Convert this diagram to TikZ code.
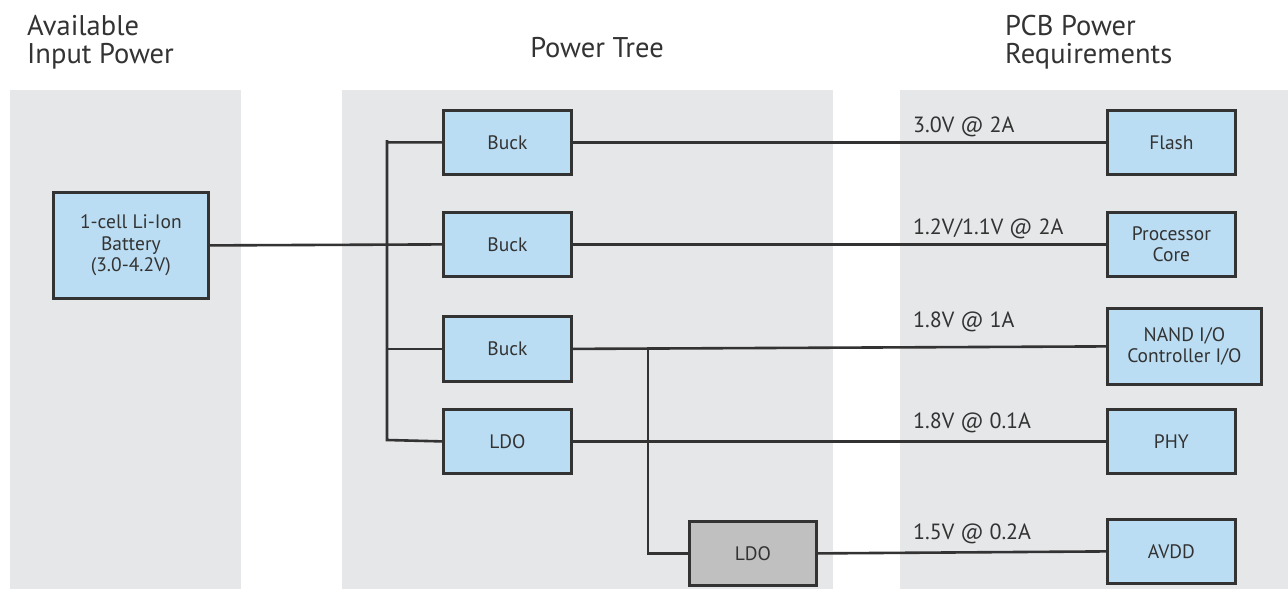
\documentclass[tikz,border=0pt]{standalone}
\usepackage{fontspec}
\setmainfont{PT Sans}
\definecolor{panelgray}{HTML}{E6E7E9}
\definecolor{boxblue}{HTML}{BBDDF3}
\definecolor{boxgray}{HTML}{C0C0C0}
\definecolor{ink}{HTML}{333333}
\tikzset{
  panel/.style={fill=panelgray, draw=none},
  blk/.style={draw=ink, line width=2.8pt, fill=boxblue, text=ink, align=center,
     font=\fontsize{19.5}{21.5}\selectfont, inner sep=0pt, anchor=north west},
  gblk/.style={blk, fill=boxgray},
  wire/.style={draw=ink, line width=2.6pt},
  lbl/.style={text=ink, font=\fontsize{22}{24}\selectfont, anchor=base west, inner sep=0pt},
  ttl/.style={text=ink, font=\fontsize{28.5}{28}\selectfont, align=left, inner sep=0pt}
}
\begin{document}
\begin{tikzpicture}[x=1pt,y=-1pt]
\useasboundingbox (0,0) rectangle (1288,589);
% panels
\fill[panel] (10,90) rectangle (241,589);
\fill[panel] (342,90) rectangle (833,589);
\fill[panel] (900,90) rectangle (1288,589);
% titles
\node[ttl, anchor=base west] (t1) at (27,63) {Available\\Input Power};
\node[ttl, anchor=base] (t2) at (597,57) {Power Tree};
\node[ttl, anchor=base west] (t3) at (1005,63) {PCB Power\\Requirements};
% boxes
\node[blk, minimum width=155pt, minimum height=106pt] (bat) at (52,191) {1-cell Li-Ion\\Battery\\(3.0-4.2V)};
\node[blk, minimum width=128pt, minimum height=64pt] (b1) at (442,109) {Buck};
\node[blk, minimum width=128pt, minimum height=64pt] (b2) at (442,211) {Buck};
\node[blk, minimum width=128pt, minimum height=65pt] (b3) at (442,315) {Buck};
\node[blk, minimum width=128pt, minimum height=64pt] (l1) at (442,408) {LDO};
\node[gblk, minimum width=127pt, minimum height=64pt] (l2) at (688,520) {LDO};
\node[blk, minimum width=128pt, minimum height=64pt] (flash) at (1106,109) {Flash};
\node[blk, minimum width=128pt, minimum height=64pt] (core) at (1106,211) {Processor\\Core};
\node[blk, minimum width=154pt, minimum height=76pt] (nand) at (1106,307) {NAND I/O\\Controller I/O};
\node[blk, minimum width=128pt, minimum height=64pt] (phy) at (1106,408) {PHY};
\node[blk, minimum width=128pt, minimum height=64pt] (avdd) at (1106,518) {AVDD};
% bus
\coordinate (bustop) at (387,140);
\coordinate (busbot) at (387,440);
\coordinate (tap) at (648,347);
\draw[wire] (bat.east) -- (b2.west);
\draw[wire] (b1.west) -| (bustop) -- (busbot) -- (l1.west);
\draw[wire] (b3.west) -- (b3.west -| bustop);
\draw[wire] (b1.east) -- (flash.west);
\draw[wire] (b2.east) -- (core.west);
\draw[wire] (b3.east) -- (nand.west);
\draw[wire] (l1.east) -- (phy.west);
\draw[wire] (tap) |- (l2.west);
\draw[wire] (l2.east) -- (avdd.west);
% labels
\node[lbl] (v1) at (913,132) {3.0V @ 2A};
\node[lbl] (v2) at (913,234) {1.2V/1.1V @ 2A};
\node[lbl] (v3) at (913,327) {1.8V @ 1A};
\node[lbl] (v4) at (913,428) {1.8V @ 0.1A};
\node[lbl] (v5) at (913,539) {1.5V @ 0.2A};
\end{tikzpicture}
\end{document}
